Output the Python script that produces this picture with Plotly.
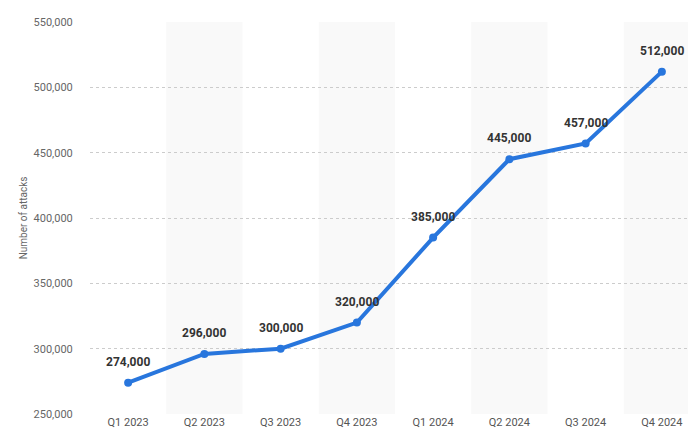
import plotly.graph_objects as go

quarters = ["Q1 2023", "Q2 2023", "Q3 2023", "Q4 2023", "Q1 2024", "Q2 2024", "Q3 2024", "Q4 2024"]
attacks = [274000, 296000, 300000, 320000, 385000, 445000, 457000, 512000]
y_ticks = [250000, 300000, 350000, 400000, 450000, 500000, 550000]

fig = go.Figure()

# alternating shaded columns
for i in range(1, len(quarters), 2):
    fig.add_shape(type="rect", xref="x", yref="paper", x0=i - 0.5, x1=i + 0.5, y0=0, y1=1,
                  fillcolor="#f9f9f9", line_width=0, layer="below")

fig.add_trace(go.Scatter(
    x=list(range(len(quarters))), y=attacks,
    mode="lines+markers",
    line=dict(color="#2876dd", width=4),
    marker=dict(size=8, color="#2876dd"),
    cliponaxis=False,
    hoverinfo="skip",
))

# value labels above points
for i, v in enumerate(attacks):
    fig.add_annotation(x=i, y=v, text=f"<b>{v:,}</b>", showarrow=False, yshift=21,
                       font=dict(family="Roboto, Arial", size=12, color="#333333"))

fig.update_layout(
    width=696, height=439,
    margin=dict(l=82, r=4, t=14, b=33),
    plot_bgcolor="white", paper_bgcolor="white",
    showlegend=False,
    font=dict(family="Roboto, Arial", color="#666666"),
    xaxis=dict(
        range=[-0.5, len(quarters) - 0.5], automargin=False,
        tickvals=list(range(len(quarters))), ticktext=quarters,
        showgrid=False, zeroline=False, showline=False,
        tickfont=dict(size=11, color="#555555"),
    ),
    yaxis=dict(
        range=[250000, 550000], automargin=False,
        tickvals=y_ticks, ticktext=[f"{v:,}" for v in y_ticks],
        showgrid=True, gridcolor="#cccccc", griddash="dot", gridwidth=1,
        zeroline=False, showline=False,
        tickfont=dict(size=11, color="#666666"),
        ticks="outside", ticklen=14, tickcolor="rgba(0,0,0,0)",
        title=dict(text="Number of attacks", font=dict(size=10, color="#666666"), standoff=4),
    ),
)

fig.write_html("out.html")
